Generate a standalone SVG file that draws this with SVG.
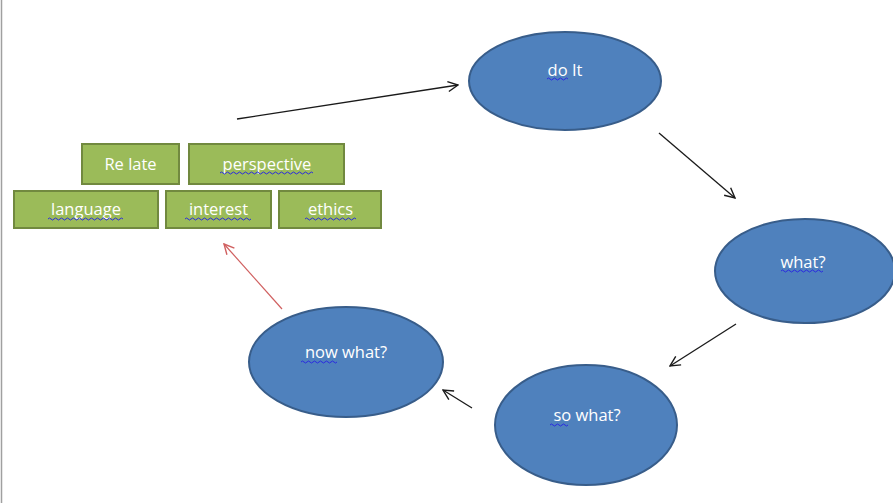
<svg xmlns="http://www.w3.org/2000/svg" width="893" height="503" viewBox="0 0 893 503">
<defs>
<style>
.box{fill:#9BBB59;stroke:#71893F;stroke-width:2}
.ell{fill:#4F81BD;stroke:#385D8A;stroke-width:2}
.t{font-family:"Open Sans","Liberation Sans",sans-serif;font-size:16.5px;fill:#FFFFFF;text-anchor:middle}
.sq{fill:none;stroke:#2A2AE0;stroke-width:1}
.c{fill:none;stroke:#1a1a1a;stroke-width:1.3}
</style>
<marker id="ah" viewBox="0 0 12 12" refX="11" refY="6" markerWidth="12" markerHeight="12" markerUnits="userSpaceOnUse" orient="auto">
<polyline points="1,1 11,6 1,11" fill="none" stroke="#1a1a1a" stroke-width="1.4"/>
</marker>
<marker id="ahr" viewBox="0 0 12 12" refX="11" refY="6" markerWidth="12" markerHeight="12" markerUnits="userSpaceOnUse" orient="auto">
<polyline points="1,1 11,6 1,11" fill="none" stroke="#D06060" stroke-width="1.4"/>
</marker>
</defs>
<rect width="893" height="503" fill="#FFFFFF"/>
<line x1="1.5" y1="0" x2="1.5" y2="503" stroke="#A0A0A0" stroke-width="1.5"/>

<g id="connectors">
<line class="c" x1="237" y1="119" x2="458" y2="85" marker-end="url(#ah)"/>
<line class="c" x1="659" y1="133" x2="735" y2="198" marker-end="url(#ah)"/>
<line class="c" x1="736" y1="324" x2="670" y2="366" marker-end="url(#ah)"/>
<line class="c" x1="472" y1="408" x2="443" y2="390" marker-end="url(#ah)"/>
<line x1="282" y1="309" x2="224" y2="244" stroke="#D06060" stroke-width="1.2" marker-end="url(#ahr)"/>
</g>

<g id="relate">
<rect class="box" x="82" y="144" width="97" height="40"/>
<text class="t" x="130.5" y="170">Re late</text>
</g>
<g id="perspective">
<rect class="box" x="189" y="144" width="155" height="40"/>
<text class="t" x="267" y="170">perspective</text>
<path class="sq" d="M220,173 q1.5,-2 3,0 t3,0 t3,0 t3,0 t3,0 t3,0 t3,0 t3,0 t3,0 t3,0 t3,0 t3,0 t3,0 t3,0 t3,0 t3,0 t3,0 t3,0 t3,0 t3,0 t3,0 t3,0 t3,0 t3,0 t3,0 t3,0 t3,0 t3,0 t3,0 t3,0 t3,0"/>
</g>
<g id="language">
<rect class="box" x="14" y="191" width="144" height="37"/>
<text class="t" x="86" y="215">language</text>
<path class="sq" d="M48,219 q1.5,-2 3,0 t3,0 t3,0 t3,0 t3,0 t3,0 t3,0 t3,0 t3,0 t3,0 t3,0 t3,0 t3,0 t3,0 t3,0 t3,0 t3,0 t3,0 t3,0 t3,0 t3,0 t3,0 t3,0 t3,0 t3,0"/>
</g>
<g id="interest">
<rect class="box" x="166" y="191" width="105" height="37"/>
<text class="t" x="218.5" y="215">interest</text>
<path class="sq" d="M185,219 q1.5,-2 3,0 t3,0 t3,0 t3,0 t3,0 t3,0 t3,0 t3,0 t3,0 t3,0 t3,0 t3,0 t3,0 t3,0 t3,0 t3,0 t3,0 t3,0 t3,0 t3,0 t3,0 t3,0"/>
</g>
<g id="ethics">
<rect class="box" x="279" y="191" width="102" height="37"/>
<text class="t" x="330.5" y="215">ethics</text>
<path class="sq" d="M305,219 q1.5,-2 3,0 t3,0 t3,0 t3,0 t3,0 t3,0 t3,0 t3,0 t3,0 t3,0 t3,0 t3,0 t3,0 t3,0 t3,0 t3,0 t3,0"/>
</g>

<g id="doit">
<ellipse class="ell" cx="565" cy="81" rx="96" ry="49"/>
<text class="t" x="565" y="76">do It</text>
<path class="sq" d="M547,79 q1.5,-2 3,0 t3,0 t3,0 t3,0 t3,0 t3,0 t3,0"/>
</g>
<g id="what">
<ellipse class="ell" cx="805" cy="271" rx="90" ry="52"/>
<text class="t" x="803" y="268">what?</text>
<path class="sq" d="M781,271 q1.5,-2 3,0 t3,0 t3,0 t3,0 t3,0 t3,0 t3,0 t3,0 t3,0 t3,0 t3,0 t3,0 t3,0 t3,0"/>
</g>
<g id="sowhat">
<ellipse class="ell" cx="586" cy="425" rx="91" ry="60"/>
<text class="t" x="587" y="421">so what?</text>
<path class="sq" d="M550,425 q1.5,-2 3,0 t3,0 t3,0 t3,0 t3,0 t3,0"/>
</g>
<g id="nowwhat">
<ellipse class="ell" cx="346" cy="362" rx="97" ry="55"/>
<text class="t" x="346" y="358">now what?</text>
<path class="sq" d="M301,362 q1.5,-2 3,0 t3,0 t3,0 t3,0 t3,0 t3,0 t3,0 t3,0 t3,0 t3,0 t3,0 t3,0"/>
</g>
</svg>
